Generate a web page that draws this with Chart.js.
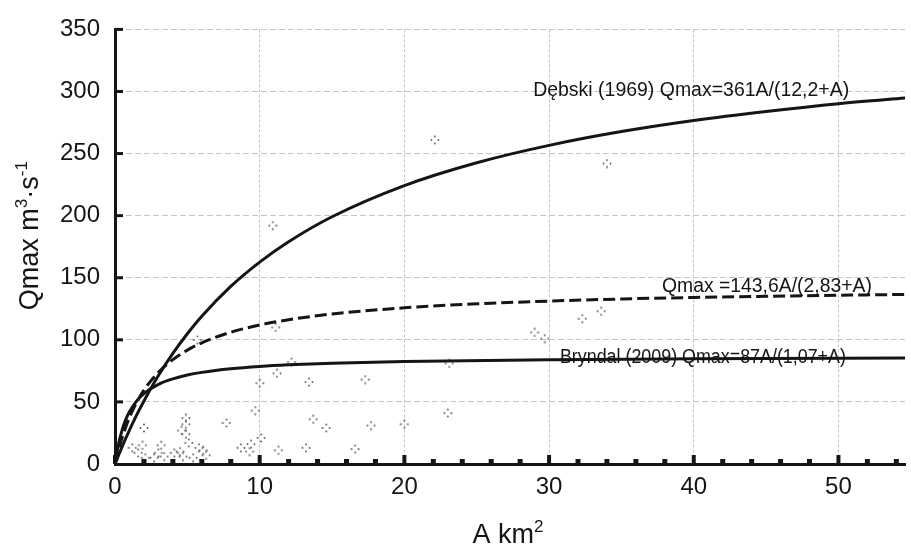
<!DOCTYPE html>
<html>
<head>
<meta charset="utf-8">
<title>Qmax vs A</title>
<script src="https://cdn.jsdelivr.net/npm/chart.js@4.4.1/dist/chart.umd.min.js"></script>
<style>
  html, body { margin: 0; padding: 0; background: #fff; }
  #wrap { width: 911px; height: 551px; }
</style>
</head>
<body>
<div id="wrap"><canvas id="chart" width="911" height="551"></canvas></div>
<script>
// Curves (A km², Qmax m³/s)
const DEBSKI_A = [0, 0.5, 1, 1.5, 2, 3, 4, 5, 6, 8, 10, 12, 15, 20, 25, 30, 35, 40, 45, 50, 55];
const DEBSKI_Q = [0, 14.2, 27.3, 39.5, 50.8, 71.3, 89.1, 104.9, 119.0, 143.0, 162.6, 179.0, 199.1, 224.2, 242.6, 256.6, 267.7, 276.6, 283.9, 290.2, 295.1];

const FIT_A = [0, 0.25, 0.5, 1, 1.5, 2, 3, 4, 5, 6, 8, 10, 12, 15, 20, 25, 30, 35, 40, 45, 50, 55];
const FIT_Q = [0, 11.7, 21.6, 37.5, 49.7, 59.5, 73.9, 84.1, 91.7, 97.6, 106.1, 111.9, 116.2, 120.8, 125.8, 129.0, 131.2, 132.9, 134.1, 135.1, 135.9, 136.6];

const BRYNDAL_A = [0, 0.1, 0.25, 0.5, 0.75, 1, 1.5, 2, 3, 4, 5, 6, 8, 10, 12, 15, 20, 30, 40, 50, 55];
const BRYNDAL_Q = [0, 7.4, 16.5, 27.7, 35.9, 42.0, 50.8, 56.7, 64.1, 68.6, 71.7, 73.8, 76.7, 78.6, 79.9, 81.2, 82.6, 84.0, 84.7, 85.2, 85.3];

// Observed floods
const OBS_A = [22.1, 34.0, 10.9, 11.1, 5.7, 12.2, 11.2, 10.0, 13.4, 17.3, 23.1, 29.0, 29.7, 32.3, 33.6,
  2.0, 4.9, 4.9, 4.6, 4.9, 7.7, 1.2, 1.9, 1.6, 3.2, 3.0, 2.7, 3.4, 4.1, 4.5, 4.7, 5.8, 6.1, 6.3, 5.4, 2.1, 5.1,
  9.7, 10.1, 8.7, 9.3, 9.4, 11.3, 13.2, 13.7, 14.6, 16.6, 17.7, 20.0, 23.0];
const OBS_Q = [261, 242, 192, 110, 100, 82, 73, 65, 66, 68, 81, 106, 101, 117, 123,
  29, 37, 32, 27, 24, 33, 13, 15, 9, 15, 9, 5, 6, 9, 10, 6, 13, 11, 7, 5, 5, 17,
  43, 21, 13, 10, 16, 11, 13, 36, 29, 12, 31, 32, 41];

const X_TICKS = [0, 10, 20, 30, 40, 50];
const Y_TICKS = [0, 50, 100, 150, 200, 250, 300, 350];

const CURVE_LABELS = [
  "Dębski (1969) Qmax=361A/(12,2+A)",
  "Qmax =143,6A/(2,83+A)",
  "Bryndal (2009) Qmax=87A/(1,07+A)",
];

// axis titles with real superscripts
const X_TITLE = [{ t: "A km" }, { t: "2", sup: true }];
const Y_TITLE = [{ t: "Qmax m" }, { t: "3", sup: true }, { t: "·s" }, { t: "-1", sup: true }];

(function () {
  const INK = "#151515";
  const FONT = "'Liberation Sans', Arial, sans-serif";
  const TITLE_PX = 27;
  const SUP_PX = 17;

  // where each curve label sits (data coords) and how wide it may run
  const LABEL_PLACE = [
    { a: 28.9, q: 300.5, w: 316 },
    { a: 37.8, q: 142.7, w: 210 },
    { a: 30.75, q: 86, w: 286 },
  ];

  const pts = (xs, ys) => xs.map((x, i) => ({ x, y: ys[i] }));

  // four-dot marker like the scanned figure
  function dotMarker() {
    const c = document.createElement("canvas");
    c.width = 10; c.height = 10;
    const g = c.getContext("2d");
    g.fillStyle = "#555";
    [[5, 1.5], [1.5, 5], [8.5, 5], [5, 8.5]].forEach(([x, y]) => {
      g.beginPath(); g.arc(x, y, 0.9, 0, Math.PI * 2); g.fill();
    });
    return c;
  }

  const curve = (data, dash) => ({
    type: "scatter",
    data,
    showLine: true,
    borderColor: INK,
    borderWidth: 3,
    borderDash: dash || [],
    pointRadius: 0,
    cubicInterpolationMode: "monotone",
    order: 1,
  });

  // draw text parts centred on (0,0), baseline at 0
  function richText(ctx, parts) {
    const fontOf = (p) => `${p.sup ? SUP_PX : TITLE_PX}px ${FONT}`;
    let total = 0;
    parts.forEach((p) => { ctx.font = fontOf(p); total += ctx.measureText(p.t).width; });
    let x = -total / 2;
    parts.forEach((p) => {
      ctx.font = fontOf(p);
      ctx.fillText(p.t, x, p.sup ? -11 : 0);
      x += ctx.measureText(p.t).width;
    });
  }

  const axisTitles = {
    id: "axisTitles",
    afterDraw(chart) {
      const { ctx, chartArea: a } = chart;
      ctx.save();
      ctx.fillStyle = INK;
      ctx.textAlign = "left";
      ctx.textBaseline = "alphabetic";
      ctx.save();
      ctx.translate((a.left + a.right) / 2 - 2, 543);
      richText(ctx, X_TITLE);
      ctx.restore();
      ctx.save();
      ctx.translate(38, (a.top + a.bottom) / 2 - 11);
      ctx.rotate(-Math.PI / 2);
      richText(ctx, Y_TITLE);
      ctx.restore();
      ctx.restore();
    },
  };

  // inward tick marks: minor every 2 km² on x, every 50 on y
  const tickMarks = {
    id: "tickMarks",
    afterDatasetsDraw(chart) {
      const { ctx, scales: { x, y } } = chart;
      ctx.save();
      ctx.fillStyle = INK;
      for (let v = 0; v <= x.max; v += 2) {
        const px = x.getPixelForValue(v);
        const major = v % 10 === 0;
        const h = major ? 9 : 5;
        ctx.fillRect(px - (major ? 2 : 2.5), y.bottom - h, major ? 4 : 5, h);
      }
      Y_TICKS.forEach((v) => {
        if (v === 0) return;
        const py = y.getPixelForValue(v);
        ctx.fillRect(x.left, py - 1.5, 8, 3);
      });
      ctx.restore();
    },
  };

  const curveLabels = {
    id: "curveLabels",
    afterDatasetsDraw(chart) {
      const { ctx, scales: { x, y } } = chart;
      ctx.save();
      ctx.fillStyle = INK;
      ctx.font = "19.5px " + FONT;
      ctx.textAlign = "left";
      ctx.textBaseline = "middle";
      CURVE_LABELS.forEach((text, i) => {
        const p = LABEL_PLACE[i];
        ctx.fillText(text, x.getPixelForValue(p.a), y.getPixelForValue(p.q), p.w);
      });
      ctx.restore();
    },
  };

  new Chart(document.getElementById("chart"), {
    type: "scatter",
    data: {
      datasets: [
        {
          data: pts(OBS_A, OBS_Q),
          pointStyle: dotMarker(),
          pointRadius: 5,
          order: 2,
        },
        curve(pts(DEBSKI_A, DEBSKI_Q)),
        curve(pts(FIT_A, FIT_Q), [12, 5]),
        curve(pts(BRYNDAL_A, BRYNDAL_Q)),
      ],
    },
    options: {
      responsive: false,
      animation: false,
      layout: { padding: { top: 20, right: 0, left: 0, bottom: 0 } },
      plugins: { legend: { display: false }, tooltip: { enabled: false } },
      scales: {
        x: {
          type: "linear",
          min: 0,
          max: 54.6,
          afterBuildTicks: (s) => { s.ticks = X_TICKS.map((v) => ({ value: v })); },
          afterFit: (s) => { s.height = 87; },
          ticks: { color: INK, font: { family: FONT, size: 24 }, padding: 9, maxRotation: 0 },
          grid: {
            drawTicks: false,
            color: (c) => (c.tick && c.tick.value === 0 ? "transparent" : "#c4c4c4"),
            lineWidth: 1,
          },
          border: { color: INK, width: 3, dash: [3, 2] },
        },
        y: {
          min: 0,
          max: 350,
          afterBuildTicks: (s) => { s.ticks = Y_TICKS.map((v) => ({ value: v })); },
          afterFit: (s) => { s.width = 115; },
          ticks: { color: INK, font: { family: FONT, size: 24 }, padding: 15 },
          grid: {
            drawTicks: false,
            color: (c) => (c.tick && c.tick.value === 0 ? "transparent" : "#c4c4c4"),
            lineWidth: 1,
          },
          border: { color: INK, width: 3, dash: [6, 3] },
        },
      },
    },
    plugins: [tickMarks, curveLabels, axisTitles],
  });
})();
</script>
</body>
</html>
